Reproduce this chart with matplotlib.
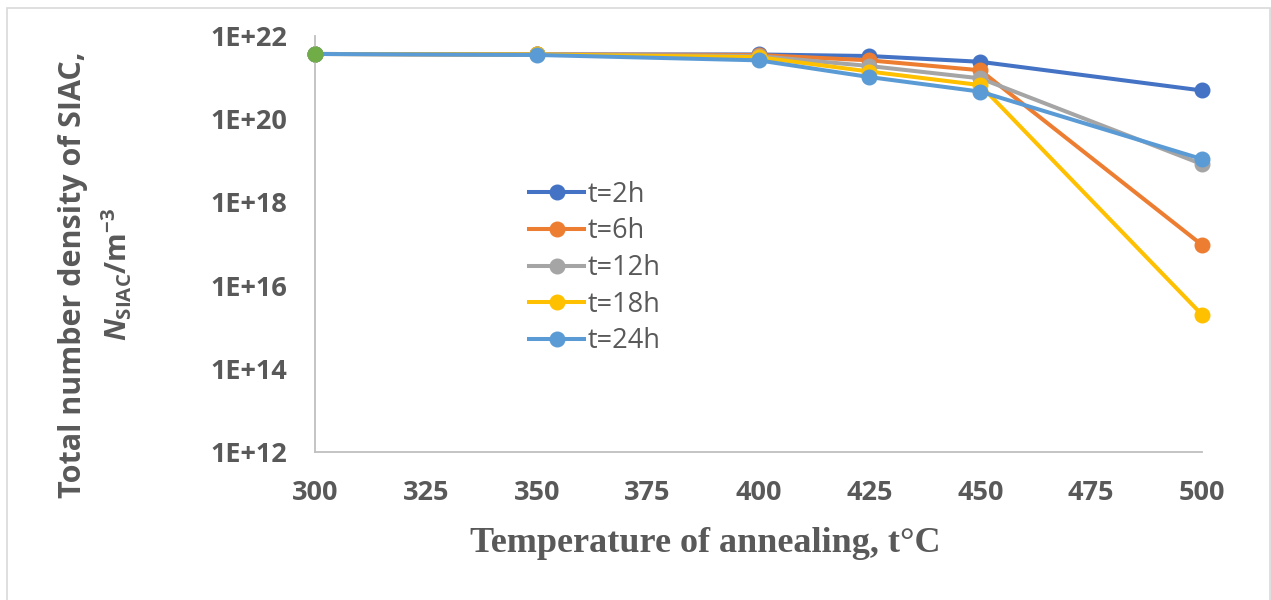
import matplotlib
matplotlib.use("Agg")
import matplotlib.pyplot as plt
from matplotlib.patches import Rectangle

# temperatures of annealing, t°C
temps = [300, 350, 400, 425, 450, 500]

# total number density of SIAC, m^-3, one list per annealing time
t2h = [3.7e21, 3.6e21, 3.6e21, 3.3e21, 2.4e21, 4.9e20]
t6h = [3.7e21, 3.6e21, 3.5e21, 2.6e21, 1.5e21, 9.5e16]
t12h = [3.7e21, 3.6e21, 3.3e21, 1.9e21, 9.6e20, 8.3e18]
t18h = [3.7e21, 3.6e21, 3.1e21, 1.4e21, 6.6e20, 2.0e15]
t24h = [3.7e21, 3.5e21, 2.6e21, 1.03e21, 4.6e20, 1.1e19]
# single extra point at 300 (green, not in legend)
extra_t = [300]
extra_v = [3.7e21]

labels = ["t=2h", "t=6h", "t=12h", "t=18h", "t=24h"]
colors = ["#4472C4", "#ED7D31", "#A5A5A5", "#FFC000", "#5B9BD5"]

yticks = [1e12, 1e14, 1e16, 1e18, 1e20, 1e22]
ytick_labels = ["1E+12", "1E+14", "1E+16", "1E+18", "1E+20", "1E+22"]
xticks = [300, 325, 350, 375, 400, 425, 450, 475, 500]

grey = "#595959"
plt.rcParams["mathtext.fontset"] = "custom"
plt.rcParams["mathtext.rm"] = "Open Sans:bold"
plt.rcParams["mathtext.bf"] = "Open Sans:bold"
plt.rcParams["mathtext.it"] = "Open Sans:italic:bold"

fig = plt.figure(figsize=(12.71, 6.0), dpi=100)
fig.patches.append(Rectangle((7 / 1271, -0.01), 1263 / 1271, 1 - 8 / 600 + 0.01,
                             transform=fig.transFigure, fill=False,
                             edgecolor="#D9D9D9", linewidth=1.2))

ax = fig.add_axes([315 / 1271, 1 - 452 / 600, 887 / 1271, 416 / 600])

series = [t2h, t6h, t12h, t18h, t24h]
for vals, lab, col in zip(series, labels, colors):
    ax.plot(temps, vals, color=col, lw=2.9, marker="o", markersize=10.5,
            label=lab, clip_on=False)
ax.plot(extra_t, extra_v, color="#70AD47", lw=2.9, marker="o",
        markersize=10.5, clip_on=False, zorder=5)

ax.set_yscale("log")
ax.set_ylim(1e12, 1e22)
ax.set_xlim(300, 500)
ax.minorticks_off()
ax.set_yticks(yticks)
ax.set_yticklabels(ytick_labels)
ax.set_xticks(xticks)
ax.tick_params(length=0, labelsize=19.5, labelcolor=grey)
ax.tick_params(axis="y", pad=20)
ax.tick_params(axis="x", pad=20)
for t in ax.get_xticklabels() + ax.get_yticklabels():
    t.set_fontfamily("Open Sans")
    t.set_fontweight("bold")

for s in ["top", "right"]:
    ax.spines[s].set_visible(False)
for s in ["left", "bottom"]:
    ax.spines[s].set_color("#BFBFBF")
    ax.spines[s].set_linewidth(1.3)

leg = ax.legend(loc="upper left", bbox_to_anchor=(0.241, 0.652), frameon=False,
                handlelength=2.05, handletextpad=0.12, labelspacing=0.32,
                borderpad=0, borderaxespad=0,
                prop={"family": "Open Sans", "size": 19.5})
for t in leg.get_texts():
    t.set_color(grey)

fig.text(705 / 1271, 1 - 543 / 600, "Temperature of annealing, t°C",
         ha="center", va="center", fontsize=26, fontweight="bold",
         family="Liberation Serif", color=grey)
fig.text(73 / 1271, 1 - 275 / 600, "Total number density of SIAC,",
         ha="center", va="center", rotation=90, fontsize=22,
         fontweight="bold", family="Open Sans", color=grey)
fig.text(117 / 1271, 1 - 274 / 600, r"$N_{\mathrm{SIAC}}\mathrm{/m}^{\mathrm{-3}}$",
         ha="center", va="center", rotation=90, fontsize=21, color=grey)

fig.savefig("out.png", dpi=100)
